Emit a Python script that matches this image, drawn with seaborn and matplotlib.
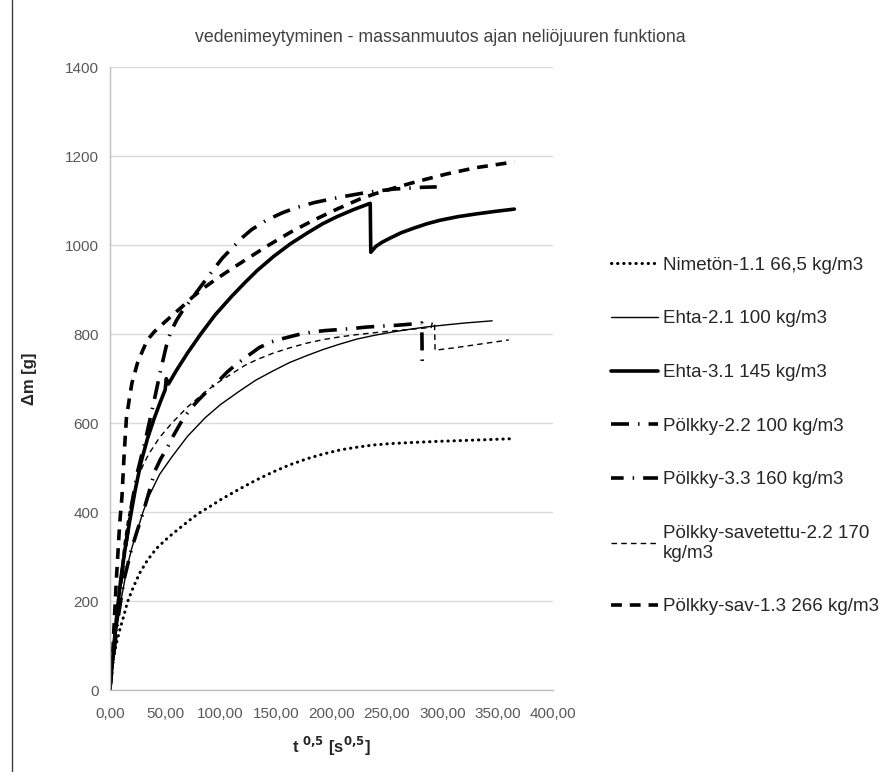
import numpy as np
import pandas as pd
import matplotlib
matplotlib.use("Agg")
import matplotlib.pyplot as plt
from matplotlib.lines import Line2D
import seaborn as sns

# --- data (x = t^0.5, y = mass change in g) ---
nimeton_x = [0, 3, 6, 9, 13, 16, 21, 27, 34, 42, 50, 57, 65, 72, 80, 90, 100, 117, 132, 147,
             162, 178, 193, 208, 223, 238, 253, 268, 295, 330, 362]
nimeton_y = [0, 67, 105, 135, 170, 198, 230, 263, 292, 318, 337, 352, 368, 382, 397, 412, 428, 452, 472, 490,
             506, 520, 531, 540, 546, 551, 554, 556, 559, 562, 565]

ehta21_x = [0, 3, 6, 10, 16, 20, 25, 30, 35, 45, 56, 70, 86, 100, 117, 132, 147, 162, 178, 193,
            208, 223, 238, 253, 268, 285, 300, 320, 345]
ehta21_y = [0, 60, 130, 200, 280, 320, 360, 400, 434, 485, 524, 570, 612, 642, 672, 697, 717, 736, 752, 766,
            778, 789, 797, 804, 810, 816, 820, 825, 830]

ehta31_x = [0, 3, 6, 10, 14, 18, 23, 28, 34, 40, 46, 50, 51, 53, 60, 70, 82, 95, 110, 122,
            133, 148, 163, 178, 192, 205, 220, 235, 235.5, 240, 246, 253, 263, 274, 286, 298,
            314, 330, 348, 365]
ehta31_y = [0, 80, 160, 250, 320, 380, 450, 510, 565, 610, 650, 675, 700, 688, 718, 757, 800, 843, 885, 916,
            943, 975, 1003, 1027, 1048, 1064, 1080, 1094, 984, 997, 1007, 1016, 1028, 1038, 1048, 1056,
            1064, 1070, 1076, 1081]

polkky22_x = [0, 4, 8, 13, 20, 25, 29, 36, 41, 46, 52, 57, 65, 72, 80, 88, 99, 106, 113, 125,
              135, 145, 156, 170, 183, 194, 205, 220, 232, 245, 259, 269, 281.5, 282]
polkky22_y = [0, 90, 170, 250, 320, 360, 390, 450, 494, 520, 545, 570, 605, 630, 652, 672, 697, 715, 730, 752,
              770, 782, 790, 799, 805, 808, 810, 813, 816, 818, 820, 822, 825, 720]

polkky33_x = [0, 4, 8, 13, 20, 25, 32, 40, 46, 51, 55, 60, 65, 74, 86, 95, 102, 113, 120, 128,
              142, 156, 169, 185, 208, 233, 256, 282, 295]
polkky33_y = [0, 100, 200, 300, 420, 490, 560, 650, 720, 773, 805, 830, 850, 880, 920, 950, 972, 1000, 1018, 1035,
              1057, 1073, 1085, 1096, 1108, 1119, 1126, 1130, 1131]

savetettu_x = [0, 3, 6, 10, 13, 16, 20, 25, 30, 35, 45, 56, 70, 86, 98, 110, 122, 133, 147, 162,
               178, 193, 208, 223, 238, 253, 268, 280, 290, 291, 293, 293.5, 310, 335, 360]
savetettu_y = [0, 80, 170, 260, 330, 380, 430, 475, 505, 530, 568, 600, 636, 670, 692, 711, 730, 743, 757, 769,
               780, 788, 794, 799, 803, 807, 810, 813, 815, 826, 826, 764, 769, 778, 787]

sav13_x = [0, 3, 6, 9, 11, 13, 15, 18, 20, 25, 30, 34, 40, 50, 58, 65, 75, 86, 95, 104,
           115, 125, 142, 163, 183, 205, 226, 240, 256, 270, 285, 304, 330, 365]
sav13_y = [0, 100, 250, 375, 434, 530, 610, 660, 690, 735, 765, 787, 805, 828, 846, 861, 884, 906, 922, 937,
           955, 971, 998, 1029, 1055, 1081, 1104, 1116, 1128, 1138, 1148, 1160, 1174, 1187]

labels = [
    "Nimetön-1.1 66,5 kg/m3",
    "Ehta-2.1 100 kg/m3",
    "Ehta-3.1 145 kg/m3",
    "Pölkky-2.2 100 kg/m3",
    "Pölkky-3.3 160 kg/m3",
    "Pölkky-savetettu-2.2 170\nkg/m3",
    "Pölkky-sav-1.3 266 kg/m3",
]
series = [
    (nimeton_x, nimeton_y),
    (ehta21_x, ehta21_y),
    (ehta31_x, ehta31_y),
    (polkky22_x, polkky22_y),
    (polkky33_x, polkky33_y),
    (savetettu_x, savetettu_y),
    (sav13_x, sav13_y),
]
styles = [
    dict(linewidth=2.2, linestyle=(0, (0.1, 1.9)), dash_capstyle="round"),
    dict(linewidth=1.0, linestyle="-"),
    dict(linewidth=2.6, linestyle="-"),
    dict(linewidth=2.6, linestyle=(0, (5, 2.5, 0.4, 2.5))),
    dict(linewidth=2.6, linestyle=(1.5, (5, 2.5, 0.4, 2.5))),
    dict(linewidth=1.0, linestyle=(0, (4, 3))),
    dict(linewidth=2.6, linestyle=(0, (3, 2.2))),
]

sns.set_theme(style="white")
plt.rcParams["font.family"] = ["Liberation Sans", "DejaVu Sans"]

fig = plt.figure(figsize=(8.85, 7.72), dpi=100)
ax = fig.add_axes([0.124, 0.106, 0.501, 0.807])

for (xs, ys), lab, st in zip(series, labels, styles):
    df = pd.DataFrame({"x": xs, "y": ys})
    sns.lineplot(data=df, x="x", y="y", ax=ax, color="black", sort=False,
                 estimator=None, label=lab, **st)

ax.set_xlim(0, 400)
ax.set_ylim(0, 1400)
ax.set_xticks(np.arange(0, 401, 50))
ax.set_xticklabels([f"{v:.2f}".replace(".", ",") for v in np.arange(0, 401, 50)])
ax.set_yticks(np.arange(0, 1401, 200))
ax.tick_params(axis="both", length=0, labelsize=11, labelcolor="#595959", pad=8)
ax.tick_params(axis="x", pad=12)
ax.grid(axis="y", color="#d9d9d9", linewidth=1)
for side in ["top", "right"]:
    ax.spines[side].set_visible(False)
for side in ["left", "bottom"]:
    ax.spines[side].set_color("#bfbfbf")
    ax.spines[side].set_linewidth(1)

ax.set_xlabel(r"t $^{\mathbf{0{,}5}}$ [s$^{\mathbf{0{,}5}}$]", fontsize=12, fontweight="bold",
              color="#262626", labelpad=10)
ax.set_ylabel("Δm [g]", fontsize=12, fontweight="bold", color="#262626", labelpad=20)

fig.suptitle("vedenimeytyminen - massanmuutos ajan neliöjuuren funktiona",
             x=0.497, y=0.962, fontsize=12.8, color="#404040")

ax.legend(loc="center left", bbox_to_anchor=(1.113, 0.408), frameon=False,
          fontsize=13.5, handlelength=2.5, labelspacing=1.95, handletextpad=0.3,
          borderaxespad=0, labelcolor="#262626")

# thin frame edge visible at the left of the original image
fig.add_artist(Line2D([0.0135, 0.0135], [0, 1], color="#404040", linewidth=1))

fig.savefig("out.png", dpi=100)
